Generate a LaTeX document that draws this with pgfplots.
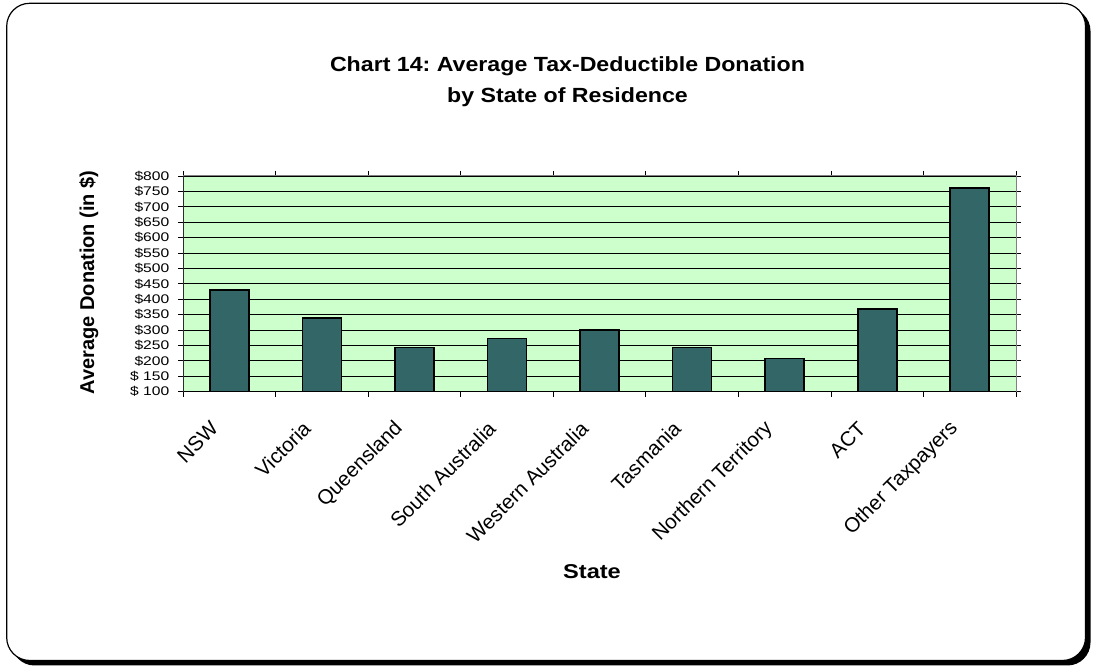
\documentclass[border=0pt]{standalone}
\usepackage{pgfplots}
\pgfplotsset{compat=1.18}
\usepackage{fontspec}
\setmainfont{Liberation Sans}
\frenchspacing
\definecolor{bgg}{HTML}{CCFFCC}
\definecolor{barc}{HTML}{336666}
\begin{document}
\begin{tikzpicture}[x=1pt,y=1pt]
\path[use as bounding box] (0,0) rectangle (1093,668);
\fill[black, rounded corners=23pt] (11.5,2.5) rectangle (1090.5,660);
\draw[black, fill=white, line width=1.2pt, rounded corners=23pt] (6.7,7.5) rectangle (1085.5,664.7);
\node[font=\fontsize{20.5}{24}\selectfont\bfseries, anchor=base, xscale=1.13] at (567.5,596.3) {Chart 14: Average Tax-Deductible Donation};
\node[font=\fontsize{20.5}{24}\selectfont\bfseries, anchor=base, xscale=1.13] at (567.5,565) {by State of Residence};
\node[font=\fontsize{20}{24}\selectfont\bfseries, rotate=90, anchor=base] at (94,385.5) {Average Donation (in \$)};
\node[font=\fontsize{20}{24}\selectfont\bfseries, anchor=base, xscale=1.18] at (592,89) {State};
\begin{axis}[
  at={(183.3pt,276.3pt)}, anchor=south west, scale only axis,
  width=832.7pt, height=215.7pt,
  xmin=-0.5, xmax=8.5, ymin=100, ymax=800,
  ytick={100,150,...,800},
  yticklabels={\$ 100,\$ 150,\$200,\$250,\$300,\$350,\$400,\$450,\$500,\$550,\$600,\$650,\$700,\$750,\$800},
  yticklabel style={font=\fontsize{12.5}{14}\selectfont, xscale=1.25, inner sep=1pt, xshift=-6pt},
  ymajorgrids, grid style={black, line width=0.9pt},
  xtick={-0.5,0.5,...,8.5}, xticklabels={,,,,,,,,,,},
  extra x ticks={0,1,...,8},
  extra x tick labels={NSW,Victoria,Queensland,South Australia,Western Australia,Tasmania,Northern Territory,ACT,Other Taxpayers},
  extra x tick style={major tick length=0pt, grid=none,
     xticklabel style={rotate=45, anchor=east, font=\fontsize{20.5}{24}\selectfont, xshift=-31pt, yshift=-13pt}},
  tick align=outside, major tick length=5pt, tick style={black, line width=0.9pt},
  axis background/.style={fill=bgg},
  axis line style={draw=gray, line width=1pt},
  ybar, bar width=39pt,
]
\addplot[fill=barc, draw=black, line width=1.6pt] coordinates {(0,430) (1,340) (2,243) (3,272) (4,301) (5,243) (6,208) (7,368) (8,762)};
\draw[black, line width=1pt] (rel axis cs:0,1) -- (rel axis cs:0,0) -- (rel axis cs:1,0);
\end{axis}
\end{tikzpicture}
\end{document}
